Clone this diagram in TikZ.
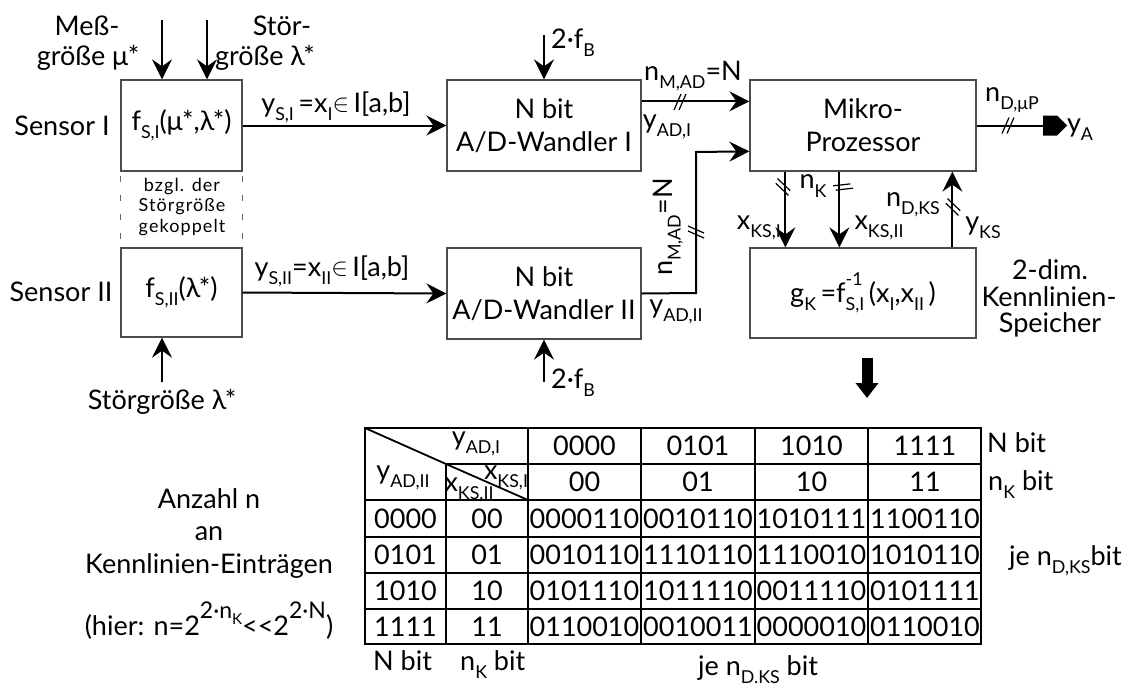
\documentclass[tikz,border=0pt]{standalone}
\usepackage{fontspec}
\usepackage{graphicx}
\setmainfont{Lato}
\usetikzlibrary{arrows.meta,calc,shapes.symbols}
\tikzset{
  box/.style={draw=black!70, line width=1.3pt, inner sep=0pt, align=center},
  arr/.style={line width=2pt, -{Stealth[length=20pt,width=20pt,inset=7pt]}},
  wire/.style={line width=2pt},
  lbl/.style={inner sep=0pt},
  small/.style={inner sep=0pt, font=\fontsize{18}{20}\selectfont\addfontfeature{LetterSpace=6}},
  tl/.style={line width=1.8pt},
  tt/.style={inner sep=0pt},
  dslash/.pic={\draw[line width=1.2pt] (-6,8)--(1,-8) (-1,8)--(6,-8);},
}
\newcommand\sbs[1]{\raisebox{-0.3em}{\scalebox{0.66}{#1}}}
\newcommand\sps[1]{\raisebox{0.62em}{\scalebox{0.66}{#1}}}
\newcommand\elem{\raisebox{1pt}{$\in$}}
\begin{document}
\begin{tikzpicture}[x=1pt,y=-1pt,font=\fontsize{27}{33}\selectfont]
\useasboundingbox (0,0) rectangle (1131,686);

% ---------- blocks ----------
\node[box, minimum width=121pt, minimum height=91pt] (s1) at (181.5,125.5) {f\sbs{S,I}(μ*,λ*)};
\node[box, minimum width=121pt, minimum height=89pt] (s2) at (181.5,292.5) {f\sbs{S,II}(λ*)};
\node[box, minimum width=194pt, minimum height=91pt] (a1) at (544,125.5) {N bit\\A/D-Wandler I};
\node[box, minimum width=194pt, minimum height=91pt] (a2) at (544,293.5) {N bit\\A/D-Wandler II};
\node[box, minimum width=226pt, minimum height=91pt] (mp) at (863,125.5) {Mikro-\\Prozessor};
\node[box, minimum width=226pt, minimum height=90pt] (ks) at (863,293) {g\sbs{K}\,=f\makebox[0pt][l]{\sps{-1}}\sbs{S,I}\,(x\sbs{I},x\sbs{II}\,)};

% ---------- side labels ----------
\node[lbl] (l1) at (62,126) {Sensor I};
\node[lbl] (l2) at (61,292) {Sensor II};
\node[lbl] (lm1) at (87,26) {Meß-};
\node[lbl] (lm2) at (88,58) {größe μ*};
\node[lbl] (ls1) at (282,26) {Stör-};
\node[lbl] (ls2) at (265,58) {größe λ*};
\node[lbl] (ls3) at (162,402) {Störgröße λ*};
\node[small] (k1) at (182,187) {bzgl. der};
\node[small] (k2) at (182,207) {Störgröße};
\node[small] (k3) at (182,228) {gekoppelt};
\draw[black!60, line width=1pt, dash pattern=on 6pt off 13pt, dash phase=-4pt] (s1.south west) -- (s2.north west);
\draw[black!60, line width=1pt, dash pattern=on 6pt off 13pt, dash phase=-4pt] (s1.south east) -- (s2.north east);

% ---------- inputs ----------
\coordinate (m1) at (162,20);
\coordinate (m2) at (207,20);
\coordinate (m3) at (162,382);
\draw[arr] (m1) -- (m1 |- s1.north);
\draw[arr] (m2) -- (m2 |- s1.north);
\draw[arr] (m3) -- (m3 |- s2.south);

\coordinate (f1) at (544,35);
\coordinate (f2) at (544,382);
\draw[arr] (f1) -- (a1.north);
\draw[arr] (f2) -- (a2.south);
\node[lbl, anchor=west] (lf1) at (551,43) {2·f\sbs{B}};
\node[lbl, anchor=west] (lf2) at (551,383) {2·f\sbs{B}};

% ---------- sensor to ADC ----------
\draw[arr] (s1.east) -- (a1.west);
\draw[arr] (s2.east) -- (a2.west);
\node[lbl] (lys1) at (336,107) {y\sbs{S,I}\,=x\sbs{I}\elem\,I[a,b]};
\node[lbl] (lys2) at (332,271) {y\sbs{S,II}=x\sbs{II}\elem\,I[a,b]};

% ---------- ADC to µP ----------
\draw[arr] ($(a1.north east)+(0,22)$) -- ($(mp.north west)+(0,22)$);
\pic at (680,102) {dslash};
\node[lbl] (ln1) at (693,76) {n\sbs{M,AD}=N};
\node[lbl] (lya1) at (667,127) {y\sbs{AD,I}};

\coordinate (c2) at (696,293);
\draw[arr] (a2.east) -- (c2) -- ($(c2)+(0,-141)$) -- ($(mp.north west)+(0,72)$);
\pic[rotate=90] at (696,232) {dslash};
\node[lbl, rotate=90] (ln2) at (668,227) {n\sbs{M,AD}=N};
\node[lbl] (lya2) at (676,312) {y\sbs{AD,II}};

% ---------- µP output ----------
\node[signal, signal to=east, fill=black, minimum width=24pt, minimum height=20pt, inner sep=0pt] (ya) at (1050,125.5) {};
\draw[wire] (mp.east) -- (ya.west);
\pic at (1008,125.5) {dslash};
\node[lbl] (lnd) at (1012,100) {n\sbs{D,μP}};
\node[lbl] (lyA) at (1080,130) {y\sbs{A}};

% ---------- µP <-> KS ----------
\draw[arr] ($(mp.south west)+(36,0)$) -- ($(ks.north west)+(36,0)$);
\draw[arr] ($(mp.south west)+(90,0)$) -- ($(ks.north west)+(90,0)$);
\draw[arr] ($(ks.north west)+(203,0)$) -- ($(mp.south west)+(203,0)$);
\pic[rotate=70] at (783,187) {dslash};
\pic[rotate=120] at (843,187) {dslash};
\pic[rotate=70] at (953,207) {dslash};
\node[lbl] (lnk) at (813,186) {n\sbs{K}};
\node[lbl, anchor=east] (lxk1) at (781,228) {x\sbs{KS,I}};
\node[lbl] (lxk2) at (879,228) {x\sbs{KS,II}};
\node[lbl] (lndk) at (913,205) {n\sbs{D,KS}};
\node[lbl] (lyk) at (983,228) {y\sbs{KS}};
\node[lbl] (d1) at (1050,270) {2-dim.};
\node[lbl] (d2) at (1049,297) {Kennlinien-};
\node[lbl] (d3) at (1050,325) {Speicher};

% thick arrow
\coordinate (ta) at (867,358);
\coordinate (tb) at (867,398);
\draw[line width=11pt, -{Triangle[length=15pt,width=22pt]}] (ta) -- (tb);

% ---------- table ----------
\draw[tl] (365,428) rectangle (981,644);
\draw[tl] (446,464) -- (981,464);
\foreach \yy in {500,537,573,609} \draw[tl] (365,\yy) -- (981,\yy);
\draw[tl] (446,464) -- (446,644);
\foreach \xx in {528,641,755,868} \draw[tl] (\xx,428) -- (\xx,644);
\draw[tl] (365,428) -- (446,464) -- (528,500);

\node[tt] (h1) at (476,444) {y\sbs{AD,I}};
\node[tt] (h2) at (403,478) {y\sbs{AD,II}};
\node[tt] (h3) at (506,478) {x\sbs{KS,I}};
\node[tt] (h4) at (469,490) {x\sbs{KS,II}};
\foreach \t [count=\i from 0] in {0000,0101,1010,1111} {
  \node[tt] (c\i) at (584.5+113.5*\i,446) {\t};
  \node[tt] (r\i) at (405.5,518.5+36*\i) {\t};
}
\foreach \t [count=\i from 0] in {00,01,10,11} {
  \node[tt] (cc\i) at (584.5+113.5*\i,482) {\t};
  \node[tt] (rr\i) at (487,518.5+36*\i) {\t};
}
\foreach \row [count=\j from 0] in {{0000110,0010110,1010111,1100110},{0010110,1110110,1110010,1010110},{0101110,1011110,0011110,0101111},{0110010,0010011,0000010,0110010}} {
  \foreach \t [count=\i from 0] in \row {
    \node[tt] at (584.5+113.5*\i,518.5+36*\j) {\t};
  }
}
\node[tt, anchor=base west] (tn1) at (987,452) {N bit};
\node[tt, anchor=base west] (tn2) at (988,490) {n\sbs{K} bit};
\node[tt, anchor=base east] (tn3) at (1122,565) {je n\sbs{D,KS}bit};
\node[tt, anchor=base west] (tb1) at (373,670) {N bit};
\node[tt, anchor=base west] (tb2) at (460,670) {n\sbs{K} bit};
\node[tt, anchor=base west] (tb3) at (698,675) {je n\sbs{D.KS} bit};

% ---------- left text ----------
\node[tt, anchor=base] (z1) at (209,508) {Anzahl n};
\node[tt, anchor=base] (z2) at (209,540) {an};
\node[tt, anchor=base] (z3) at (209,573) {Kennlinien-Einträgen};
\node[tt, anchor=base] (z4) at (209,635) {(hier: n=2\raisebox{17pt}{\fontsize{23}{23}\selectfont 2·n\sbs{K}}<{}<2\raisebox{17pt}{\fontsize{23}{23}\selectfont 2·N})};
\end{tikzpicture}
\end{document}
